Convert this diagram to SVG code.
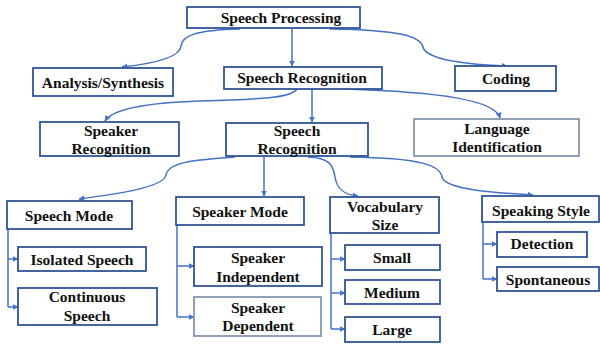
<svg xmlns="http://www.w3.org/2000/svg" width="600" height="345" viewBox="0 0 600 345">
<style>
.box{fill:#fff;stroke:#2F5597;stroke-width:1.8}
.lite{fill:#fff;stroke:#8497B0;stroke-width:1.8}
.t{font-family:'Liberation Serif','Times New Roman','DejaVu Serif',serif;font-weight:bold;font-size:15.5px;fill:#111;text-anchor:middle}
.c{fill:none;stroke:#4472C4;stroke-width:1.5;marker-end:url(#ah)}
.l{fill:none;stroke:#4472C4;stroke-width:1.5}
</style>
<defs>
<marker id="ah" viewBox="0 0 10 10" refX="9" refY="5" markerWidth="6" markerHeight="6" markerUnits="userSpaceOnUse" orient="auto">
<path d="M0,0 L10,5 L0,10 Z" fill="#4472C4"/>
</marker>
</defs>
<rect width="600" height="345" fill="#fff"/>
<g id="connectors">
<path class="c" d="M240,29 C195,30 182,36 181,46 C180,58 150,64 122,67"/>
<path class="c" d="M292,29 L292,66"/>
<path class="c" d="M330,29 C400,30 420,36 423,47 C426,60 470,65 507,66"/>
<path class="c" d="M297,89 C292,97 270,99 200,101 C140,103 112,110 105,121"/>
<path class="c" d="M312,89 L312,122"/>
<path class="c" d="M345,89 C440,92 495,100 500,118"/>
<path class="c" d="M235,157 C190,160 168,163 166,175 C164,188 110,195 79,199"/>
<path class="c" d="M264,157 L264,196"/>
<path class="c" d="M308,157 C330,158 333,165 335,177 C337,190 345,195 358,196"/>
<path class="c" d="M350,157 C420,158 440,165 442,177 C445,190 500,193 533,195"/>
<path class="l" d="M8,229 L8,307"/>
<path class="c" d="M8,259 L18,259"/>
<path class="c" d="M8,307 L18,307"/>
<path class="l" d="M177,225 L177,317"/>
<path class="c" d="M177,266 L194,266"/>
<path class="c" d="M177,317 L194,317"/>
<path class="l" d="M331,233 L331,329"/>
<path class="c" d="M331,259 L345,259"/>
<path class="c" d="M331,293 L345,293"/>
<path class="c" d="M331,329 L345,329"/>
<path class="l" d="M483,222 L483,279"/>
<path class="c" d="M483,244 L497,244"/>
<path class="c" d="M483,279 L497,279"/>
</g>
<g id="speech-processing"><rect class="box" x="187" y="7" width="173" height="21"/><text class="t" x="281" y="23">Speech Processing</text></g>
<g id="analysis-synthesis"><rect class="box" x="33" y="68" width="140" height="28"/><text class="t" x="103" y="88">Analysis/Synthesis</text></g>
<g id="speech-recognition-1"><rect class="box" x="224" y="67" width="158" height="22"/><text class="t" x="302" y="83">Speech Recognition</text></g>
<g id="coding"><rect class="box" x="455" y="66" width="101" height="25"/><text class="t" x="506" y="84">Coding</text></g>
<g id="speaker-recognition"><rect class="box" x="40" y="122" width="139" height="34"/><text class="t" x="111" y="136">Speaker</text><text class="t" x="111" y="154">Recognition</text></g>
<g id="speech-recognition-2"><rect class="box" x="226" y="123" width="142" height="33"/><text class="t" x="297" y="136">Speech</text><text class="t" x="297" y="154">Recognition</text></g>
<g id="language-identification"><rect class="lite" x="414" y="119" width="165" height="37"/><text class="t" x="497" y="134">Language</text><text class="t" x="497" y="152">Identification</text></g>
<g id="speech-mode"><rect class="box" x="7" y="201" width="125" height="28"/><text class="t" x="69" y="221">Speech Mode</text></g>
<g id="isolated-speech"><rect class="box" x="18" y="247" width="128" height="24"/><text class="t" x="82" y="265">Isolated Speech</text></g>
<g id="continuous-speech"><rect class="box" x="18" y="288" width="139" height="37"/><text class="t" x="87" y="302">Continuous</text><text class="t" x="87" y="321">Speech</text></g>
<g id="speaker-mode"><rect class="box" x="176" y="197" width="128" height="28"/><text class="t" x="240" y="217">Speaker Mode</text></g>
<g id="speaker-independent"><rect class="box" x="194" y="247" width="128" height="39"/><text class="t" x="258" y="263">Speaker</text><text class="t" x="258" y="282">Independent</text></g>
<g id="speaker-dependent"><rect class="lite" x="194" y="297" width="127" height="39"/><text class="t" x="258" y="313">Speaker</text><text class="t" x="258" y="331">Dependent</text></g>
<g id="vocabulary-size"><rect class="box" x="330" y="197" width="109" height="36"/><text class="t" x="385" y="212">Vocabulary</text><text class="t" x="385" y="230">Size</text></g>
<g id="small"><rect class="box" x="345" y="245" width="95" height="25"/><text class="t" x="392" y="263">Small</text></g>
<g id="medium"><rect class="box" x="345" y="280" width="95" height="24"/><text class="t" x="392" y="298">Medium</text></g>
<g id="large"><rect class="box" x="345" y="317" width="95" height="25"/><text class="t" x="392" y="335">Large</text></g>
<g id="speaking-style"><rect class="box" x="482" y="196" width="117" height="26"/><text class="t" x="541" y="216">Speaking Style</text></g>
<g id="detection"><rect class="box" x="497" y="232" width="90" height="25"/><text class="t" x="542" y="249">Detection</text></g>
<g id="spontaneous"><rect class="box" x="497" y="267" width="102" height="24"/><text class="t" x="548" y="285">Spontaneous</text></g>
</svg>
